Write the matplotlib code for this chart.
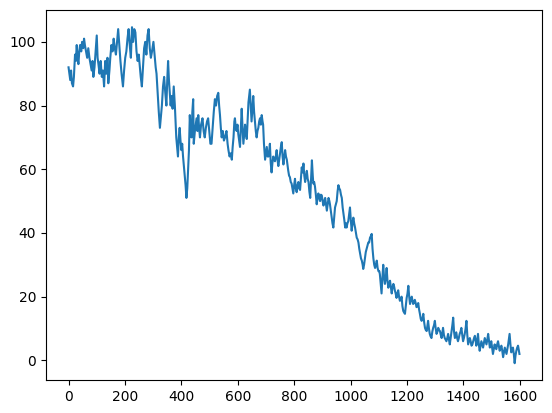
"""Noisy decaying series, single line plot
"""
import numpy as np
import matplotlib
matplotlib.use('Agg')
import matplotlib.pyplot as plt

# sample index (x) and value (y)
sample_idx = [
	0,3,6,9,12,16,19,23,26,29,32,35,38,41,45,48,52,55,58,62,66,70,74,78,82,85,88,92,96,100,
	103,106,110,114,118,122,126,130,134,138,141,145,148,152,156,160,164,168,172,176,180,184,188,193,197,201,205,209,213,217,
	221,225,229,233,237,241,245,249,252,256,260,264,268,272,276,280,284,288,292,296,301,305,309,312,316,320,324,327,331,335,
	339,343,347,350,353,356,359,362,365,369,373,377,380,382,385,388,391,394,397,400,403,406,409,412,415,418,421,424,427,430,
	433,436,439,442,444,448,451,454,457,460,463,466,470,475,479,483,487,491,495,499,503,507,511,515,
	519,523,527,531,534,537,540,543,547,551,555,560,564,567,571,575,579,582,585,588,590,593,596,599,602,605,608,611,614,617,
	620,623,626,629,632,635,638,643,646,649,652,655,658,661,664,667,670,673,676,679,682,685,688,690,693,697,700,703,706,709,
	712,714,717,720,723,726,729,732,735,738,741,744,747,750,753,756,759,762,765,768,771,774,777,779,782,785,788,791,794,797,
	800,803,806,809,812,815,818,821,824,827,830,833,836,839,842,845,848,851,854,857,860,863,866,868,871,874,877,880,883,886,
	889,892,895,898,901,904,907,910,913,916,919,922,925,927,930,933,936,939,942,945,948,951,954,957,960,963,966,969,972,975,
	978,981,984,986,989,992,995,998,1001,1004,1007,1010,1013,1016,1019,1022,1025,1028,1031,1034,1037,1040,1043,1045,1048,1051,1054,1057,1060,1063,
	1066,1069,1072,1075,1078,1081,1084,1087,1090,1093,1096,1099,1102,1104,1107,1110,1113,1116,1119,1122,1125,1128,1131,1134,1137,1140,1143,1146,1149,1152,
	1155,1157,1160,1163,1166,1169,1172,1175,1178,1181,1184,1187,1190,1193,1196,1199,1202,1205,1208,1211,1214,1217,1220,1222,1225,1228,1231,1234,1237,1240,
	1243,1246,1249,1252,1255,1258,1261,1264,1267,1270,1273,1275,1278,1281,1284,1287,1290,1293,1296,1299,1302,1305,1308,1311,1314,1317,1320,1323,1326,1328,
	1331,1334,1337,1340,1343,1346,1349,1352,1355,1358,1361,1364,1367,1370,1373,1375,1378,1381,1384,1387,1390,1393,1396,1399,1402,1405,1408,1411,1414,1417,
	1420,1423,1426,1429,1432,1435,1438,1441,1444,1446,1449,1452,1455,1458,1461,1464,1467,1470,1473,1476,1479,1482,1485,1488,1491,1494,1497,1499,1502,1505,
	1508,1511,1514,1517,1520,1523,1526,1529,1532,1535,1538,1541,1544,1547,1550,1553,1556,1559,1562,1564,1567,1570,1573,1576,1579,1582,1585,1588,1591,1594,
	1597,1599,
]
values = [
	92,90,88,91,87,86,89,96,94,99,95,93,97,99,97,100,98,101,99,97,95,98,95,93,91,94,89,92,97,102,
	95,93,90,94,89,91,86,94,90,95,87,91,95,99,97,101,98,96,100,104,99,94,90,86,91,95,97,101,104,99,
	95,104.6,100,104,103,97,94,96,93,89,86,92,98,100,96,102,104,98,95,97,100,96,92,90,84,78,73,76,80,86,
	89,84,80,88,94,88,84,80,83,79,86,80,74,70,67,64,70,73,69,66,68,64,61,58,55,51,54,60,66,77,
	72,70,78,82,68,72,74,76,72,77,73,70,74,76,72,70,73,75,76,72,68,68,73,78,
	82,80,83,84,80,77,73,70,72,69,70,72,68,66,64,65,63,67,70,75,76,73,72,74,71,69,67,73,79,73,
	68,71,74,71,69.5,75,81,85,80,75,79,83,78,75,72,70,72,73,75,76,74,77,75,74,68,63,65,67,64,64,
	66,68,62,59,62,64,63,62.5,64,66,63,61,63,65,67,68.5,64,61.5,64,66,64,63,61,59.6,58,57.5,56,55.5,54,52.4,
	55,57,54,52.8,55,56,54,53.5,57,60.6,59,61.8,58,56,58,59.5,57,56,53,51,57,62.8,58,55.5,56,54.5,52,49,51,52.4,
	51,50,52,51.8,50,48.6,50,51,49,47,49,51,50,49,47,44.8,43,41.7,45,48,49,50,53,55,54,53.5,52,51,48,46,
	44,41.7,43,41.7,43,43.7,46,48,44,40.7,43,44.8,43,41.7,40,38.5,38,37,35,33.5,32,31.3,30,28.7,30,32,34,35,36,37,
	37,38.5,39,39.7,35,32,30,29,30,31.3,29,28,28,27,24,21,26,30,26,24,26,29,25,22.8,24,25,23,21,23,24,
	23,22,21,19.6,21,22,20,18.7,19,20,17,15.5,15,14.6,17,19.6,21,23.4,20,17.7,19,20,18.5,17.7,18,19,18,16.7,17,18,
	16,14.6,13,12.4,13,14.6,12,10.2,9.5,9.2,11,12.4,10,8.3,7.5,7,9,10.2,11,12.4,10,8.3,9,10.2,9.5,9.2,8,7,9,10.2,
	8,7,6.5,6,7,8.3,6.5,5,7,9.2,11,13.4,9,7,8,8.8,7,6,7,8.3,9,10.2,8,6,7,8.3,10,12.4,8,5,
	6,7,6,4.6,5,6,7,7.7,6,4.6,6,8.3,5,3,4.5,6,5,4,5.5,7,6,5,6.5,8.3,6,4,5,6,4,2,
	3.5,5,4,3.5,5,6,4.5,3,4,4.6,3,1,2.5,4,3,2,3.5,5,7,8.3,5,2.5,3.5,4,2,-0.9,1.5,3,4,4.6,
	3,2,
]

assert len(sample_idx) == len(values)


def plot_series(x_vals, y_vals, plot_file_path):
	fig = plt.figure(figsize=(5.52, 4.13), dpi=100)
	ax = fig.add_axes([46/552, 33/413, 496/552, 369.6/413])
	ax.plot(np.array(x_vals), np.array(y_vals), color='#1f77b4', linewidth=1.5)
	ax.set_xticks([0, 200, 400, 600, 800, 1000, 1200, 1400, 1600])
	ax.set_yticks([0, 20, 40, 60, 80, 100])
	plt.savefig(plot_file_path, dpi=100)
	plt.close()


if __name__ == '__main__':
	plot_series(sample_idx, values, 'out.png')
